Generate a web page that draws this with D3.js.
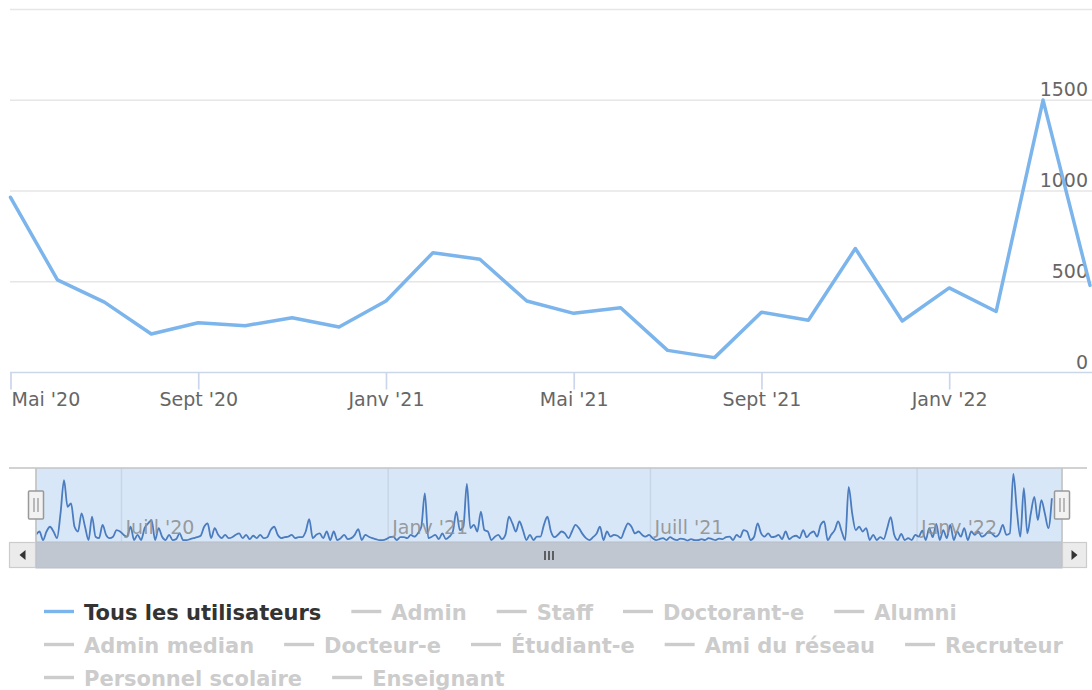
<!DOCTYPE html>
<html>
<head>
<meta charset="utf-8">
<script src="https://cdn.jsdelivr.net/npm/d3@7"></script>
<style>
  body { margin: 0; background: #fff; }
  svg { display: block; font-family: "DejaVu Sans", Verdana, sans-serif; }
</style>
</head>
<body>
<svg id="chart" width="1092" height="690"></svg>
<script>
// Monthly totals shown in the main chart (grouped by month)
const months = ["2020-05", "2020-06", "2020-07", "2020-08", "2020-09", "2020-10", "2020-11", "2020-12",
    "2021-01", "2021-02", "2021-03", "2021-04", "2021-05", "2021-06", "2021-07", "2021-08", "2021-09",
    "2021-10", "2021-11", "2021-12", "2022-01", "2022-02", "2022-03", "2022-04"];
const totals = [965, 510, 388, 212, 274, 258, 302, 251, 394, 660, 624, 394, 326, 357, 122, 82, 332,
    288, 683, 284, 466, 336, 1501, 480];

const yTicks = [0, 500, 1000, 1500, 2000];
const xTickMonths = ["2020-05", "2020-09", "2021-01", "2021-05", "2021-09", "2022-01"];
const xTickLabels = ["Mai '20", "Sept '20", "Janv '21", "Mai '21", "Sept '21", "Janv '22"];

// Navigator: daily-ish series
const navFirst = "2020-05-03";
const navLast = "2022-04-04";
const navDomain = ["2020-05-03", "2022-04-11"];
const navValues = [
    13, 20, 2, 20, 30, 20, 6, 58, 128, 72, 79, 30, 20, 58, 30, 2, 51, 9, 6, 34,
    13, 6, 9, 23, 20, 13, 9, 30, 2, 13, 2, 27, 37, 44, 2, 27, 9, 2, 13, 2,
    4, 16, 2, 2, 4, 6, 8, 11, 30, 37, 6, 27, 13, 6, 13, 6, 8, 13, 16, 6,
    13, 4, 11, 6, 13, 6, 8, 23, 30, 13, 6, 8, 9, 13, 6, 8, 8, 20, 46, 6,
    13, 16, 6, 20, 2, 20, 2, 6, 13, 4, 6, 13, 25, 2, 13, 9, 6, 4, 2, 2,
    4, 8, 9, 2, 8, 8, 6, 13, 9, 16, 30, 100, 6, 9, 13, 4, 16, 4, 9, 20,
    62, 23, 30, 120, 27, 34, 20, 62, 23, 20, 2, 9, 13, 4, 13, 51, 37, 20, 41, 23,
    2, 13, 2, 9,
    9, 34, 51, 20, 8, 13, 20, 16, 6, 20, 34, 27, 15, 6, 2, 8, 15, 30, 2, 20,
    9, 13, 11, 6, 23, 37, 30, 16, 20, 13, 9, 13, 6, 2, 4, 6, 2, 8, 4, 2,
    5, 4, 1, 4, 2, 2, 4, 2, 6, 4, 2, 5, 4, 8, 9, 2, 13, 8, 23, 20,
    2, 9, 37, 16, 9, 16, 8, 9, 13, 4, 20, 4, 9, 11, 6, 23, 8, 16, 20, 9,
    34, 41, 2, 13, 23, 41, 20, 2, 114, 58, 23, 30, 20, 27, 2, 13, 2, 8, 4, 27,
    50, 13, 2, 15, 2, 6, 2, 13, 9, 22, 2, 27, 8, 36, 2, 23, 6, 34, 2, 20,
    9, 27, 2, 20, 13, 20, 9, 13, 20, 15, 9, 16, 34, 13, 16, 141, 65, 9, 111, 16,
    58, 93, 44, 86, 58, 27, 90
];
const navTickDates = ["2020-07-01", "2021-01-01", "2021-07-01", "2022-01-01"];
const navTickLabels = ["Juill '20", "Janv '21", "Juill '21", "Janv '22"];

// Legend entries (only the first series is visible)
const legendNames = ["Tous les utilisateurs", "Admin", "Staff", "Doctorant-e", "Alumni",
    "Admin median", "Docteur-e", "Étudiant-e", "Ami du réseau", "Recruteur",
    "Personnel scolaire", "Enseignant"];
const legendVisible = [true, false, false, false, false, false, false, false, false, false, false, false];

const W = 1092;
const lineColor = "#7cb5ec";
const svg = d3.select("#chart");
const parseDay = d3.timeParse("%Y-%m-%d");

// ---------- main chart ----------
const plot = { left: 10.5, right: 1090, top: 9.5, bottom: 372.5 };
const x = d3.scalePoint().domain(months).range([plot.left, plot.right]);
const y = d3.scaleLinear().domain([0, 2000]).range([plot.bottom, plot.top]);

// horizontal grid lines
svg.append("g").selectAll("line")
    .data(yTicks.filter(v => v > 0))
    .join("line")
    .attr("x1", 10).attr("x2", W)
    .attr("y1", d => y(d)).attr("y2", d => y(d))
    .attr("stroke", "#e6e6e6")
    .attr("stroke-width", 1.7);

// y labels sit inside the plot, above their grid line
svg.append("g").selectAll("text")
    .data(yTicks.filter(v => v < 2000))
    .join("text")
    .attr("x", 1088)
    .attr("y", d => y(d) - 4)
    .attr("text-anchor", "end")
    .attr("font-size", 19)
    .attr("fill", "#666666")
    .text(d => d);

// x axis
const xAxis = svg.append("g")
    .attr("transform", "translate(0," + plot.bottom + ")")
    .call(d3.axisBottom(x)
        .tickValues(xTickMonths)
        .tickSize(17)
        .tickSizeOuter(0)
        .tickFormat((d, i) => xTickLabels[i]));
xAxis.select(".domain").remove();
xAxis.selectAll(".tick line").attr("stroke", "#ccd6eb").attr("stroke-width", 1.7);
xAxis.selectAll(".tick text")
    .attr("y", 33.5).attr("dy", 0)
    .attr("font-size", 19)
    .attr("font-family", "DejaVu Sans, sans-serif")
    .attr("fill", "#666666");
// first label is pushed inside the chart like Highcharts does
xAxis.selectAll(".tick text").filter((d, i) => i === 0)
    .attr("text-anchor", "start").attr("x", 0.5);
svg.append("line")
    .attr("x1", 10).attr("x2", W)
    .attr("y1", plot.bottom).attr("y2", plot.bottom)
    .attr("stroke", "#ccd6eb")
    .attr("stroke-width", 1.7);

// the series line
const mainLine = d3.line()
    .x((d, i) => x(months[i]))
    .y(d => y(d));
svg.append("path")
    .datum(totals)
    .attr("d", mainLine)
    .attr("fill", "none")
    .attr("stroke", lineColor)
    .attr("stroke-width", 3.5)
    .attr("stroke-linejoin", "round")
    .attr("stroke-linecap", "round");

// ---------- navigator ----------
const nav = { left: 36, right: 1062, top: 468, bottom: 542, outerLeft: 9, outerRight: 1087 };
const nx = d3.scaleTime().domain(navDomain.map(parseDay)).range([nav.left, nav.right]);
const ny = d3.scaleLinear().domain([0, d3.max(navValues)]).range([541, 474]);
const t0 = parseDay(navFirst).getTime(), t1 = parseDay(navLast).getTime();
const navData = navValues.map((v, i) => ({
    date: new Date(t0 + i * (t1 - t0) / (navValues.length - 1)),
    value: v
}));

// selected range mask
svg.append("rect")
    .attr("x", nav.left).attr("y", nav.top)
    .attr("width", nav.right - nav.left).attr("height", nav.bottom - nav.top)
    .attr("fill", "#d8e7f7");

// navigator grid lines
svg.append("g").selectAll("line")
    .data(navTickDates)
    .join("line")
    .attr("x1", d => nx(parseDay(d))).attr("x2", d => nx(parseDay(d)))
    .attr("y1", nav.top).attr("y2", nav.bottom)
    .attr("stroke", "#c8d5e4")
    .attr("stroke-width", 1.5);

svg.append("clipPath").attr("id", "navClip")
    .append("rect")
    .attr("x", nav.left).attr("y", nav.top)
    .attr("width", nav.right - nav.left).attr("height", nav.bottom - nav.top);

const navLine = d3.line()
    .x(d => nx(d.date))
    .y(d => ny(d.value))
    .curve(d3.curveMonotoneX);
svg.append("path")
    .datum(navData)
    .attr("clip-path", "url(#navClip)")
    .attr("d", navLine)
    .attr("fill", "none")
    .attr("stroke", "#4a7cbf")
    .attr("stroke-width", 1.8);

// navigator axis labels
svg.append("g").selectAll("text")
    .data(navTickDates)
    .join("text")
    .attr("x", (d, i) => nx(parseDay(d)) + 4)
    .attr("y", 534)
    .attr("font-size", 19)
    .attr("fill", "#8f8f8f")
    .attr("fill-opacity", 0.9)
    .text((d, i) => navTickLabels[i]);

// outline
svg.append("path")
    .attr("d", "M" + nav.outerLeft + "," + nav.top + "H" + nav.outerRight +
        "M" + nav.left + "," + nav.top + "V" + nav.bottom +
        "M" + nav.right + "," + nav.top + "V" + nav.bottom)
    .attr("fill", "none")
    .attr("stroke", "#c4c4c4")
    .attr("stroke-width", 1.7);

// ---------- scrollbar ----------
const sb = { top: 542, height: 26 };
svg.append("rect")
    .attr("x", nav.outerLeft).attr("y", sb.top)
    .attr("width", nav.outerRight - nav.outerLeft).attr("height", sb.height)
    .attr("fill", "#f2f2f2");
svg.append("rect")
    .attr("x", nav.left).attr("y", sb.top)
    .attr("width", nav.right - nav.left).attr("height", sb.height)
    .attr("fill", "#c1c7d0")
    .attr("stroke", "#b8bec7");
// rifles
const mid = (nav.left + nav.right) / 2;
svg.append("g").selectAll("line")
    .data([-4, 0, 4])
    .join("line")
    .attr("x1", d => mid + d).attr("x2", d => mid + d)
    .attr("y1", sb.top + 9).attr("y2", sb.top + 18)
    .attr("stroke", "#333")
    .attr("stroke-width", 1.4);
// arrow buttons
[[nav.outerLeft, nav.left, -1], [nav.right, nav.outerRight, 1]].forEach(function (b) {
    svg.append("rect")
        .attr("x", b[0] + 0.5).attr("y", sb.top + 0.5)
        .attr("width", b[1] - b[0] - 1).attr("height", sb.height - 1)
        .attr("fill", "#ebebeb")
        .attr("stroke", "#cccccc")
        .attr("stroke-width", 1.2);
    const cx = (b[0] + b[1]) / 2, cy = sb.top + sb.height / 2;
    svg.append("path")
        .attr("d", "M" + (cx - 3 * b[2]) + "," + (cy - 5) + "L" + (cx + 3 * b[2]) + "," + cy +
            "L" + (cx - 3 * b[2]) + "," + (cy + 5) + "Z")
        .attr("fill", "#333");
});

// ---------- handles ----------
[nav.left, nav.right].forEach(function (hx) {
    svg.append("rect")
        .attr("x", hx - 7.5).attr("y", 491)
        .attr("width", 15).attr("height", 28)
        .attr("rx", 1)
        .attr("fill", "#f2f2f2")
        .attr("stroke", "#999999")
        .attr("stroke-width", 1.5);
    [-2, 2].forEach(function (o) {
        svg.append("line")
            .attr("x1", hx + o).attr("x2", hx + o)
            .attr("y1", 498).attr("y2", 512)
            .attr("stroke", "#999999")
            .attr("stroke-width", 1.3);
    });
});

// ---------- legend ----------
const legend = svg.append("g").attr("font-size", 21).attr("font-weight", "bold");
let lx = 44, ly = 619.5;
const legendMaxX = 1080, itemGap = 30;
legendNames.forEach(function (name, i) {
    const g = legend.append("g");
    const color = legendVisible[i] ? lineColor : "#cccccc";
    const t = g.append("text")
        .attr("x", 40).attr("y", 0)
        .attr("fill", legendVisible[i] ? "#333333" : "#cccccc")
        .text(name);
    g.append("line")
        .attr("x1", 0).attr("x2", 30)
        .attr("y1", -8).attr("y2", -8)
        .attr("stroke", color)
        .attr("stroke-width", 3.4);
    const w = 40 + t.node().getComputedTextLength();
    if (lx + w > legendMaxX && lx > 44) {
        lx = 44;
        ly += 33;
    }
    g.attr("transform", "translate(" + lx + "," + ly + ")");
    lx += w + itemGap;
});
</script>
</body>
</html>
